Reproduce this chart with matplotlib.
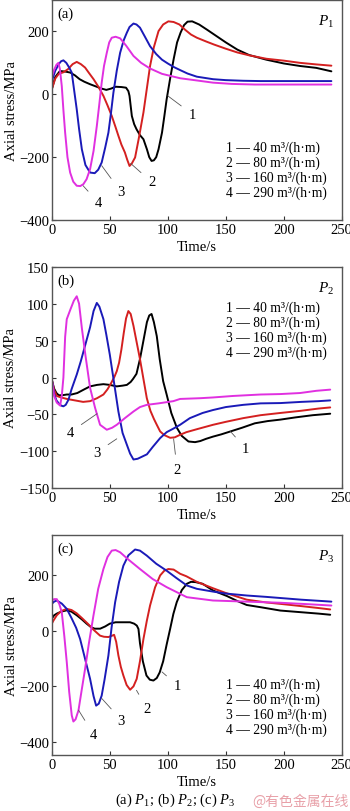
import matplotlib
matplotlib.use("Agg")
import matplotlib.pyplot as plt

# ---------------- data ----------------
# panel (a) P1
a1_t = [0, 3, 7, 12, 16, 20, 24, 28, 33, 38, 43, 47, 51, 55, 60, 64, 66, 67, 69, 71, 73, 76, 79, 82, 84, 86, 88, 90, 92, 95, 97, 99, 102, 105, 108, 111, 114, 117, 121, 127, 134, 140, 150, 160, 170, 185, 200, 214, 228, 241]
a1_v = [16, 55, 74, 72, 69, 60, 48, 40, 32, 25, 18, 14, 18, 24, 23, 21, 10, -5, -69, -95, -111, -130, -143, -175, -200, -212, -210, -200, -175, -122, -70, -16, 50, 111, 165, 196, 220, 231, 232, 222, 205, 190, 165, 142, 125, 110, 98, 90, 84, 73]
a2_t = [0, 3, 6, 10, 14, 18, 21.5, 25, 28.7, 32, 36, 40, 44.5, 48, 51.7, 55, 57.4, 60, 63, 65, 67, 69, 71.8, 75, 79, 82, 84.7, 88, 92, 96, 100.5, 105, 110, 115, 120, 125, 133, 140, 150, 160, 170, 185, 200, 214, 228, 241]
a2_v = [16, 50, 65, 70, 80, 96, 103, 96, 85, 68, 48, 25, -5, -35, -69, -105, -132, -160, -185, -208, -228, -220, -201, -140, -58, 20, 90, 150, 201, 222, 232, 230, 222, 205, 190, 180, 168, 158, 145, 133, 124, 113, 107, 100, 95, 91]
a3_t = [0, 3, 6, 8, 10, 12.5, 15, 17.2, 19, 21.5, 23.5, 25.9, 29, 33, 37, 40, 43, 46, 48.8, 51, 53.1, 56, 58.9, 62, 64.7, 67, 70.4, 73, 76, 80, 84.7, 90, 95, 100, 105, 110.6, 117, 125, 139, 150, 165, 180, 200, 220, 241]
a3_v = [42, 75, 96, 105, 108, 100, 85, 69, 20, -48, -110, -175, -225, -249, -251, -240, -217, -170, -122, -60, 5, 75, 132, 172, 196, 214, 225, 222, 212, 185, 153, 128, 110, 98, 87, 77, 66, 56, 48, 45, 43, 42, 42, 42, 42]
a4_t = [0, 2, 4, 5.7, 7, 8.6, 10, 11.5, 13.5, 15.8, 18.5, 21.5, 24.5, 27.2, 30, 33, 36, 38.8, 41, 43, 45, 47.4, 49.5, 51.7, 55, 58.9, 64, 70.4, 77, 84.7, 95, 110.6, 125, 139, 155, 175, 200, 220, 241]
a4_v = [55, 78, 94, 100, 80, 26, -50, -122, -200, -249, -278, -291, -292, -286, -270, -238, -180, -101, -30, 37, 90, 132, 165, 180, 183, 178, 155, 122, 100, 82, 65, 51, 44, 37, 33, 31, 31, 31, 31]

# panel (b) P2
b1_t = [0, 2, 4, 6, 9, 13, 17, 22, 28, 33, 39, 44.5, 50, 56, 61, 64.7, 68, 70, 73, 76, 79, 82, 84, 86, 88, 90.5, 93, 96, 99, 103, 107.8, 112, 117.8, 123.5, 128, 133, 139, 146, 154, 164, 175, 186, 197, 210, 225, 240]
b1_v = [-3, -15, -21, -24, -24, -23, -23, -21, -16, -12, -10, -9, -10, -12, -11, -10, -6, -2, 5, 25, 50, 75, 84, 86, 75, 56, 25, -5, -23, -48, -68, -79, -86.6, -87.5, -86, -83, -80, -77, -73, -68, -62, -59, -57, -54, -51, -49]
b2_t = [0, 2, 4.3, 8, 13, 20, 27, 33, 39, 44.5, 48, 51, 54, 56, 58, 60, 62, 64, 66, 68, 70.4, 73, 76, 79, 81.9, 85, 88, 90.5, 93.4, 97, 102, 106, 110.6, 116, 125, 139, 150, 165, 180, 197, 215, 230, 240]
b2_v = [-3, -17, -25, -27, -29, -31, -33, -32, -28, -23, -16, -8, 1, 8.6, 20, 38, 60, 80, 90, 86, 70, 49, 25, -2, -28, -45, -56, -64, -73, -78, -81.6, -81, -77.5, -74, -70, -64, -60, -55, -51, -48, -45, -42, -40.5]
b3_t = [0, 2, 4, 6, 8, 10, 12, 14.4, 17, 21.5, 25, 29, 33, 36, 38.8, 41, 44.5, 47, 50, 53, 57.4, 61, 64.7, 67.5, 70.4, 74, 78, 82, 87, 93.4, 99, 105, 110.6, 119, 130, 139, 150, 165, 180, 197, 215, 230, 240]
b3_v = [-3, -22, -31, -35, -38, -39, -37, -30, -16, 4, 22, 45, 68, 90, 101, 96, 79, 58, 31, 0, -46, -75, -91, -103, -111, -110, -107, -104, -94, -82, -74, -69, -64, -55, -48, -44, -40, -37, -35, -34.6, -33, -32, -31]
b4_t = [0, 2, 4.3, 7.2, 8.6, 10, 11.5, 12.9, 16, 19, 21.5, 23.5, 25.9, 29, 33, 37.3, 41.6, 47.4, 52, 56, 63, 70.4, 76, 81.9, 92, 104.8, 110.6, 128, 139, 156, 180, 197, 214, 228, 240]
b4_v = [-3, -25, -34, -38, -25, 0, 55, 79, 92, 104, 110, 100, 67, 30, -14, -41, -64, -70.7, -68, -64, -55, -46, -40, -37, -35, -32, -29, -28, -27, -25, -23, -22.4, -21, -18, -16.4]

# panel (c) P3
c1_t = [0, 2, 4.3, 8, 13, 17, 21.5, 26, 30, 34, 37, 41.7, 46, 50, 55, 61.8, 67.5, 71, 73.3, 74.7, 76, 78.5, 81.6, 84.5, 87.6, 90.5, 93, 96, 99, 102, 104.8, 107.7, 112, 116.4, 120, 124, 130, 139, 151, 160, 168, 180, 197, 215, 230, 240]
c1_v = [43, 55, 61, 68, 73, 68, 55, 40, 25, 12, 7, 7, 15, 25, 30, 30, 30, 25, 18, 6, -45, -110, -161, -176, -179, -170, -150, -110, -50, 6, 60, 102, 145, 168, 175, 174, 168, 144, 124, 106, 92, 84, 72, 66, 61, 57]
c2_t = [0, 1.4, 4.3, 8, 12.9, 17, 21.5, 26, 31, 36, 41.6, 45, 48.8, 51.5, 53.7, 55.5, 57.4, 59.5, 61.7, 64.5, 67.5, 70.4, 73.2, 76, 79, 81.9, 84.7, 89, 93.4, 97, 100.5, 105, 110.6, 116, 125, 139, 150, 168, 185, 197, 215, 230, 240]
c2_v = [25, 36, 55, 70, 78, 74, 62, 45, 25, 3, -18, -22, -23, -19, -15, -40, -89, -130, -161, -195, -212, -200, -173, -110, -30, 35, 90, 155, 198, 215, 221, 219, 204, 195, 175, 152, 135, 111, 101, 96, 88, 81, 76]
c3_t = [0, 2, 4.3, 8.6, 12.9, 17, 21, 24.4, 28, 33, 36, 38.2, 40.5, 43, 45.5, 48.8, 51.5, 54.6, 58, 61.7, 66, 71.8, 76, 81.9, 90, 99, 107, 116.4, 125, 139, 150, 168, 185, 197, 215, 230, 241]
c3_v = [96, 104, 108, 97, 78, 45, 10, -30, -90, -173, -235, -269, -262, -233, -175, -89, 10, 102, 175, 233, 270, 291, 287, 269, 240, 215, 190, 162, 150, 140, 133, 126, 121, 117, 111, 107, 104]
c4_t = [0, 2, 4.3, 6.5, 8.6, 10.8, 12.9, 15, 17.2, 18.6, 20.5, 23, 25.5, 28.7, 32, 35.9, 40, 44.5, 48, 51.7, 55, 58.9, 66, 76, 87, 99, 116.4, 139, 168, 197, 220, 241]
c4_v = [108, 113, 113, 95, 66, -20, -113, -220, -304, -326, -318, -286, -220, -137, -45, 54, 150, 221, 264, 287, 289, 281, 255, 221, 185, 156, 120, 108, 104, 100, 95, 90]

panels = [
    dict(t=[a1_t, a2_t, a3_t, a4_t], v=[a1_v, a2_v, a3_v, a4_v]),
    dict(t=[b1_t, b2_t, b3_t, b4_t], v=[b1_v, b2_v, b3_v, b4_v]),
    dict(t=[c1_t, c2_t, c3_t, c4_t], v=[c1_v, c2_v, c3_v, c4_v]),
]
panel_tags = ["(a)", "(b)", "(c)"]
panel_names = ["$P_1$", "$P_2$", "$P_3$"]
legend_lines = ["1 \u2014 40 m\u00b3/(h\u00b7m)", "2 \u2014 80 m\u00b3/(h\u00b7m)",
                "3 \u2014 160 m\u00b3/(h\u00b7m)", "4 \u2014 290 m\u00b3/(h\u00b7m)"]
# curve label: (text pos, point on curve)
curve_labels = [
    [((121, -63), (100, -5)), ((86, -279), (68, -220)), ((59.5, -310), (43, -227)), ((40, -344), (27, -291))],
    [((167, -96), (154, -73)), ((108, -124), (105, -83)), ((39, -101), (56, -83)), ((16, -74), (39, -49))],
    [((108, -196), (95, -148)), ((82, -279), (73, -214)), ((60, -321), (43, -243)), ((36, -372), (23, -285))],
]

colors = ["black", "#d42020", "#1a1ab8", "#e030e0"]
ylims = [(-400, 300), (-150, 150), (-446, 343)]
yticks = [[-400, -200, 0, 200], [-150, -100, -50, 0, 50, 100, 150], [-400, -200, 0, 200]]
# axes rectangles in figure fraction [left, bottom, width, height]
rects = [[0.148, 0.7278, 0.8286, 0.2710], [0.148, 0.3974, 0.8286, 0.2729], [0.148, 0.0690, 0.8286, 0.2709]]
legend_y = [(-168, -311), (95, 34), (-191, -352)]

plt.rcParams['font.family'] = ['Liberation Serif', 'DejaVu Serif']
plt.rcParams['mathtext.fontset'] = 'custom'
plt.rcParams['mathtext.rm'] = 'Liberation Serif'
plt.rcParams['mathtext.it'] = 'Liberation Serif:italic'

fig = plt.figure(figsize=(3.5, 8.12), dpi=100)

for i, p in enumerate(panels):
    ax = fig.add_axes(rects[i])
    for t, v, c in zip(p['t'], p['v'], colors):
        ax.plot(t, v, color=c, lw=1.4, solid_capstyle='round', solid_joinstyle='round')
    ax.set_xlim(0, 250)
    ax.set_ylim(*ylims[i])
    ax.set_xticks([0, 50, 100, 150, 200, 250])
    ax.set_yticks(yticks[i])
    ax.tick_params(direction='in', length=3, width=0.8, labelsize=10.5, pad=2, colors='#333333')
    ax.tick_params(labelcolor='black')
    for s in ax.spines.values():
        s.set_color('#555555')
        s.set_linewidth(1.0)
    ax.set_xlabel('Time/s', fontsize=10.5, labelpad=3)
    ax.set_ylabel('Axial stress/MPa', fontsize=10.5, labelpad=1)
    ax.text(0.02, 0.97, panel_tags[i], transform=ax.transAxes, fontsize=10.5, va='top', ha='left')
    ax.text(0.975, 0.94, panel_names[i], transform=ax.transAxes, fontsize=11, va='top', ha='right')

    # legend text lines
    y0, y1 = legend_y[i]
    step = (y1 - y0) / 3
    for k, line in enumerate(legend_lines):
        ax.text(150, y0 + k * step, line, fontsize=9.8, va='center', ha='left')

    for k, (txt, pt) in enumerate(curve_labels[i]):
        ax.annotate(str(k + 1), xy=pt, xytext=txt, fontsize=10.5, ha='center', va='center',
                    arrowprops=dict(arrowstyle='-', color='#555555', lw=0.6, shrinkA=4, shrinkB=0))

fig.text(0.5, 0.0148, "(a) $P_1$; (b) $P_2$; (c) $P_3$", ha='center', va='center', fontsize=10.5)
fig.text(0.995, 0.0123, "@有色金属在线", ha='right', va='center', fontsize=10,
         color='#e8a0a8', family=['Noto Sans CJK SC', 'DejaVu Sans'])

fig.savefig('out.png', dpi=100)
